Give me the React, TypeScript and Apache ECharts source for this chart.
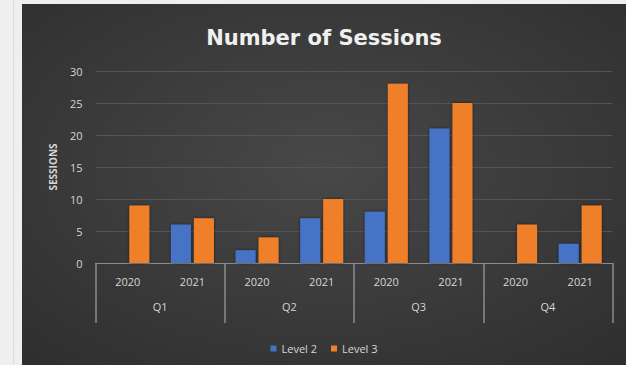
import React, { useEffect, useRef } from "react";
import * as echarts from "echarts";

// Session counts per quarter and year
const quarters = ["Q1", "Q2", "Q3", "Q4"];
const years = ["2020", "2021"];
const level2 = [0, 6, 2, 7, 8, 21, 0, 3];
const level3 = [9, 7, 4, 10, 28, 25, 6, 9];
const yTicks = { min: 0, max: 30, interval: 5 };

const yearCategories = quarters.flatMap(() => years);

const labelColor = "#d6d6d6";
const axisColor = "#8c8c8c";
const font = "'Open Sans', 'Liberation Sans', sans-serif";

export default function App() {
  const ref = useRef<HTMLDivElement>(null);

  useEffect(() => {
    if (!ref.current) return;
    const chart = echarts.init(ref.current, undefined, { renderer: "svg" });
    chart.setOption({
      animation: false,
      backgroundColor: {
        type: "radial",
        x: 0.5,
        y: 0.45,
        r: 0.75,
        colorStops: [
          { offset: 0, color: "#484848" },
          { offset: 1, color: "#2e2e2e" },
        ],
      },
      title: {
        text: "Number of Sessions",
        left: "center",
        top: 18,
        textStyle: {
          color: "#f0f0f0",
          fontSize: 21,
          fontWeight: "bold",
          fontFamily: "'DejaVu Sans', sans-serif",
        },
      },
      legend: {
        data: ["Level 2", "Level 3"],
        left: "center",
        top: 334,
        icon: "rect",
        itemWidth: 6,
        itemHeight: 6,
        itemGap: 14,
        textStyle: { color: labelColor, fontSize: 11, fontFamily: font },
      },
      grid: { left: 73.5, right: 13.5, top: 67, bottom: 102 },
      xAxis: [
        {
          type: "category",
          data: yearCategories,
          position: "bottom",
          axisLine: { show: true, lineStyle: { color: axisColor, width: 1 } },
          axisTick: { show: false },
          axisLabel: {
            color: labelColor,
            fontSize: 11,
            fontFamily: font,
            margin: 13,
            interval: 0,
          },
        },
        {
          type: "category",
          data: quarters,
          position: "bottom",
          axisLine: { show: false },
          axisTick: {
            show: true,
            length: 60,
            interval: 0,
            lineStyle: { color: axisColor, width: 1.5 },
          },
          axisLabel: {
            color: labelColor,
            fontSize: 11,
            fontFamily: font,
            margin: 38,
            interval: 0,
          },
          splitLine: { show: false },
        },
      ],
      yAxis: {
        type: "value",
        min: yTicks.min,
        max: yTicks.max,
        interval: yTicks.interval,
        name: "SESSIONS",
        nameLocation: "middle",
        nameGap: 38,
        nameRotate: 90,
        nameTextStyle: {
          color: labelColor,
          fontSize: 10,
          fontWeight: "bold",
          fontFamily: font,
        },
        axisLine: { show: false },
        axisTick: { show: false },
        axisLabel: { color: labelColor, fontSize: 11, fontFamily: font, margin: 13 },
        splitLine: { lineStyle: { color: "#545454", width: 1 } },
      },
      series: [
        {
          name: "Level 2",
          type: "bar",
          xAxisIndex: 0,
          data: level2,
          barWidth: 20,
          barGap: "15%",
          itemStyle: {
            color: "#4673c6",
            shadowBlur: 3,
            shadowColor: "rgba(0,0,0,0.55)",
          },
        },
        {
          name: "Level 3",
          type: "bar",
          xAxisIndex: 0,
          data: level3,
          barWidth: 20,
          barGap: "15%",
          itemStyle: {
            color: "#f07f2c",
            shadowBlur: 3,
            shadowColor: "rgba(0,0,0,0.55)",
          },
        },
      ],
    });
    return () => chart.dispose();
  }, []);

  return (
    <div
      style={{
        position: "fixed",
        left: 0,
        top: 0,
        width: 626,
        height: 365,
        background: "#efefef",
      }}
    >
      <div
        style={{
          position: "absolute",
          left: 13,
          top: 0,
          width: 1,
          height: 365,
          background: "#dcdcdc",
        }}
      />
      <div
        ref={ref}
        style={{ position: "absolute", left: 22, top: 4, width: 604, height: 361 }}
      />
    </div>
  );
}
